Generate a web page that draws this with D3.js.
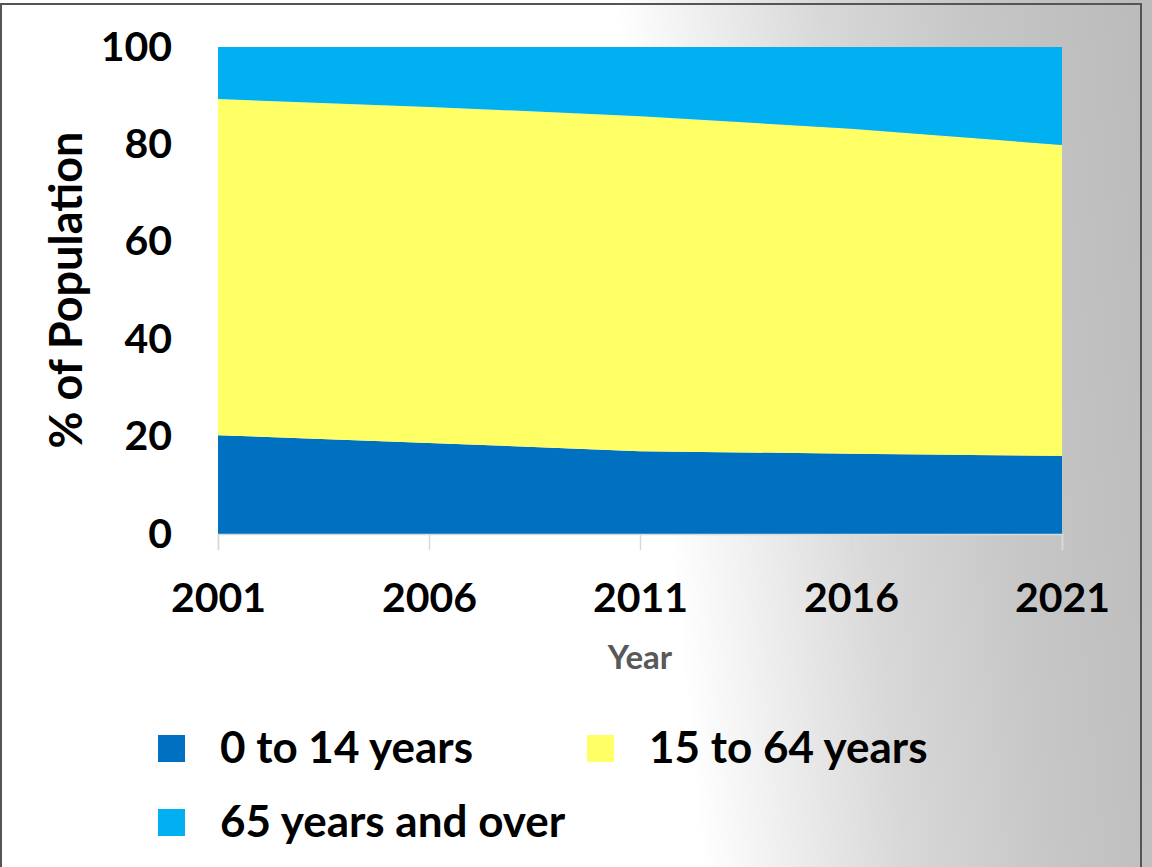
<!DOCTYPE html>
<html>
<head>
<meta charset="utf-8">
<script src="https://cdn.jsdelivr.net/npm/d3@7"></script>
<style>
  html, body { margin: 0; padding: 0; background: #fff; }
  svg { display: block; font-family: 'Lato', sans-serif; font-weight: 700; }
</style>
</head>
<body>
<div class="chart"></div>
<script>
// data (% of population)
const years = ['2001', '2006', '2011', '2016', '2021']
const age0to14 = [20.3, 18.7, 17.0, 16.5, 16.0]
const age15to64 = [69.0, 69.0, 68.8, 66.7, 63.9]
const age65plus = [10.7, 12.3, 14.2, 16.8, 20.1]
const seriesNames = ['0 to 14 years', '15 to 64 years', '65 years and over']
const seriesColors = ['#0070c0', '#ffff66', '#00b0f0']
const yTicks = [0, 20, 40, 60, 80, 100]

const width = 1152
const height = 867

const svg = d3.select('.chart')
  .append('svg')
  .attr('width', width)
  .attr('height', height)

// background gradient (white -> grey to the right)
const defs = svg.append('defs')
const grad = defs.append('linearGradient')
  .attr('id', 'bg')
  .attr('gradientUnits', 'userSpaceOnUse')
  .attr('x1', 645).attr('y1', 300)
  .attr('x2', 1150).attr('y2', 250)
grad.append('stop').attr('offset', 0).attr('stop-color', '#ffffff')
grad.append('stop').attr('offset', 0.4).attr('stop-color', '#d8d8d8')
grad.append('stop').attr('offset', 0.7).attr('stop-color', '#c6c6c6')
grad.append('stop').attr('offset', 1).attr('stop-color', '#bcbcbc')

svg.append('rect')
  .attr('width', width)
  .attr('height', height)
  .attr('fill', 'url(#bg)')

// frame
svg.append('rect')
  .attr('x', 1).attr('y', 4)
  .attr('width', 1140).attr('height', 900)
  .attr('fill', 'none')
  .attr('stroke', '#555')
  .attr('stroke-width', 2)

const table = years.map((y, i) => ({
  year: y,
  a: age0to14[i],
  b: age15to64[i],
  c: age65plus[i]
}))

const xScale = d3.scalePoint().domain(years).range([218, 1062])
const yScale = d3.scaleLinear().domain([0, 100]).range([534, 47])

const stack = d3.stack().keys(['a', 'b', 'c'])
const layers = stack(table)

const area = d3.area()
  .x(d => xScale(d.data.year))
  .y0(d => yScale(d[0]))
  .y1(d => yScale(d[1]))

svg.append('g')
  .selectAll('path')
  .data(layers)
  .join('path')
  .attr('fill', (d, i) => seriesColors[i])
  .attr('d', area)

// x axis
const xAxis = svg.append('g')
  .attr('transform', `translate(0, ${yScale(0)})`)
  .call(d3.axisBottom(xScale).tickSize(16).tickPadding(33))
xAxis.select('.domain').attr('stroke', '#d9d9d9').attr('stroke-width', 1.5)
xAxis.selectAll('.tick line').attr('stroke', '#d9d9d9').attr('stroke-width', 1.5)
xAxis.selectAll('.tick text')
  .attr('fill', '#000')
  .style('font-size', '41px')
  .style('font-family', 'Lato')
  .style('font-weight', 700)

// y axis
const yAxis = svg.append('g')
  .attr('transform', `translate(${xScale('2001')}, 0)`)
  .call(d3.axisLeft(yScale).tickValues(yTicks).tickSize(0).tickPadding(46))
yAxis.select('.domain').remove()
yAxis.selectAll('.tick text')
  .attr('fill', '#000')
  .style('font-size', '41px')
  .style('font-family', 'Lato')
  .style('font-weight', 700)

// axis titles
svg.append('text')
  .attr('transform', 'translate(82, 290) rotate(-90)')
  .attr('text-anchor', 'middle')
  .style('font-size', '45px')
  .attr('fill', '#000')
  .text('% of Population')

svg.append('text')
  .attr('x', 640)
  .attr('y', 669)
  .attr('text-anchor', 'middle')
  .style('font-size', '33px')
  .attr('fill', '#595959')
  .text('Year')

// legend
const legendPos = [[158, 735], [587, 735], [158, 809]]
const legend = svg.append('g')
  .selectAll('g')
  .data(seriesNames)
  .join('g')
  .attr('transform', (d, i) => `translate(${legendPos[i][0]}, ${legendPos[i][1]})`)
legend.append('rect')
  .attr('width', 27).attr('height', 27)
  .attr('fill', (d, i) => seriesColors[i])
legend.append('text')
  .attr('x', 62)
  .attr('y', 28)
  .style('font-size', '44px')
  .attr('fill', '#000')
  .text(d => d)
</script>
</body>
</html>
